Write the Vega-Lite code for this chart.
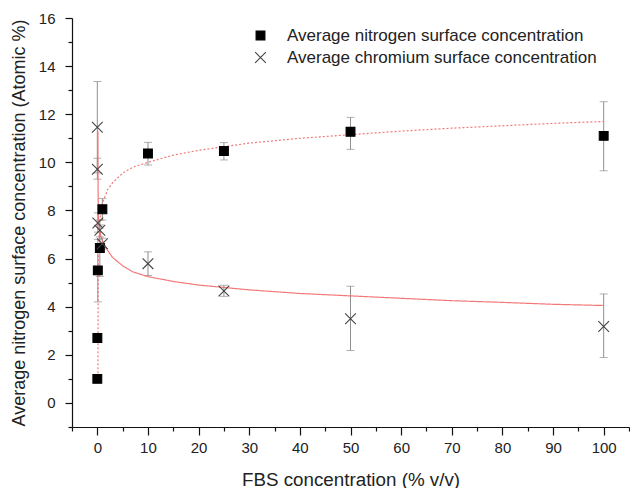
{
  "$schema": "https://vega.github.io/schema/vega-lite/v6.json",
  "width": 557,
  "height": 409,
  "autosize": {"type": "none"},
  "padding": {"left": 72, "top": 18, "right": 1, "bottom": 61},
  "background": "white",
  "config": {
    "view": {"stroke": null},
    "font": "Liberation Sans",
    "axis": {
      "domainColor": "#111",
      "domainWidth": 1.2,
      "tickColor": "#111",
      "tickWidth": 1.2,
      "labelFont": "Liberation Sans",
      "labelFontSize": 15,
      "labelColor": "#222",
      "titleFont": "Liberation Sans",
      "titleFontSize": 18,
      "titleFontWeight": "normal",
      "titleColor": "#222",
      "grid": false
    },
    "legend": {"labelFont": "Liberation Sans", "labelFontSize": 17, "labelColor": "#222", "labelLimit": 0}
  },
  "resolve": {"axis": {"x": "independent", "y": "independent"}},
  "datasets": {
    "pts": [
      {"series": "Average nitrogen surface concentration", "x": 0, "y": 1.0, "lo": 1.0, "hi": 1.0},
      {"series": "Average nitrogen surface concentration", "x": 0.01, "y": 2.7, "lo": 2.7, "hi": 2.7},
      {"series": "Average nitrogen surface concentration", "x": 0.1, "y": 5.51, "lo": 4.2, "hi": 6.8},
      {"series": "Average nitrogen surface concentration", "x": 0.5, "y": 6.44, "lo": 5.26, "hi": 7.6},
      {"series": "Average nitrogen surface concentration", "x": 1, "y": 8.05, "lo": 7.6, "hi": 8.5},
      {"series": "Average nitrogen surface concentration", "x": 10, "y": 10.37, "lo": 9.89, "hi": 10.83},
      {"series": "Average nitrogen surface concentration", "x": 25, "y": 10.47, "lo": 10.1, "hi": 10.82},
      {"series": "Average nitrogen surface concentration", "x": 50, "y": 11.27, "lo": 10.54, "hi": 11.87},
      {"series": "Average nitrogen surface concentration", "x": 100, "y": 11.1, "lo": 9.65, "hi": 12.52},
      {"series": "Average chromium surface concentration", "x": 0, "y": 11.46, "lo": 9.56, "hi": 13.36},
      {"series": "Average chromium surface concentration", "x": 0.01, "y": 9.71, "lo": 9.3, "hi": 10.17},
      {"series": "Average chromium surface concentration", "x": 0.1, "y": 7.48, "lo": 7.1, "hi": 7.9},
      {"series": "Average chromium surface concentration", "x": 0.5, "y": 7.18, "lo": 6.9, "hi": 7.4},
      {"series": "Average chromium surface concentration", "x": 1, "y": 6.62, "lo": 6.4, "hi": 6.85},
      {"series": "Average chromium surface concentration", "x": 10, "y": 5.79, "lo": 5.3, "hi": 6.28},
      {"series": "Average chromium surface concentration", "x": 25, "y": 4.65, "lo": 4.43, "hi": 4.89},
      {"series": "Average chromium surface concentration", "x": 50, "y": 3.5, "lo": 2.18, "hi": 4.85},
      {"series": "Average chromium surface concentration", "x": 100, "y": 3.18, "lo": 1.89, "hi": 4.53}
    ],
    "fit": [
      {"fit": "N", "x": 0.12, "y": 0.9},
      {"fit": "N", "x": 0.15, "y": 4.0},
      {"fit": "N", "x": 0.2, "y": 6.2},
      {"fit": "N", "x": 0.4, "y": 7.4},
      {"fit": "N", "x": 0.7, "y": 7.9},
      {"fit": "N", "x": 1, "y": 8.3},
      {"fit": "N", "x": 2, "y": 8.85},
      {"fit": "N", "x": 3, "y": 9.15},
      {"fit": "N", "x": 5, "y": 9.55},
      {"fit": "N", "x": 7, "y": 9.8},
      {"fit": "N", "x": 10, "y": 10.0},
      {"fit": "N", "x": 15, "y": 10.3},
      {"fit": "N", "x": 20, "y": 10.5},
      {"fit": "N", "x": 30, "y": 10.8},
      {"fit": "N", "x": 40, "y": 11.0},
      {"fit": "N", "x": 50, "y": 11.15},
      {"fit": "N", "x": 60, "y": 11.3},
      {"fit": "N", "x": 70, "y": 11.42},
      {"fit": "N", "x": 80, "y": 11.52},
      {"fit": "N", "x": 90, "y": 11.62},
      {"fit": "N", "x": 100, "y": 11.7},
      {"fit": "Cr", "x": 0.12, "y": 11.3},
      {"fit": "Cr", "x": 0.15, "y": 9.0},
      {"fit": "Cr", "x": 0.2, "y": 7.8},
      {"fit": "Cr", "x": 0.4, "y": 7.2},
      {"fit": "Cr", "x": 0.7, "y": 6.95},
      {"fit": "Cr", "x": 1, "y": 6.75},
      {"fit": "Cr", "x": 1.5, "y": 6.55},
      {"fit": "Cr", "x": 2, "y": 6.35},
      {"fit": "Cr", "x": 3, "y": 6.05},
      {"fit": "Cr", "x": 5, "y": 5.7},
      {"fit": "Cr", "x": 7, "y": 5.45},
      {"fit": "Cr", "x": 10, "y": 5.25},
      {"fit": "Cr", "x": 15, "y": 5.05},
      {"fit": "Cr", "x": 20, "y": 4.9},
      {"fit": "Cr", "x": 30, "y": 4.7},
      {"fit": "Cr", "x": 40, "y": 4.55},
      {"fit": "Cr", "x": 50, "y": 4.45},
      {"fit": "Cr", "x": 60, "y": 4.35},
      {"fit": "Cr", "x": 70, "y": 4.25},
      {"fit": "Cr", "x": 80, "y": 4.18},
      {"fit": "Cr", "x": 90, "y": 4.1},
      {"fit": "Cr", "x": 100, "y": 4.05}
    ]
  },
  "layer": [
    {
      "data": {"name": "pts"},
      "mark": {"type": "rule", "color": "#8f8f8f", "strokeWidth": 1},
      "encoding": {
        "x": {
          "field": "x", "type": "quantitative",
          "scale": {"domain": [-5, 105], "nice": false, "zero": false},
          "axis": {
            "orient": "bottom",
            "values": [0, 10, 20, 30, 40, 50, 60, 70, 80, 90, 100],
            "tickSize": 8,
            "labelPadding": 5,
            "title": "FBS concentration (% v/v)",
            "titleFontSize": 18.8,
            "titlePadding": 15
          }
        },
        "y": {
          "field": "lo", "type": "quantitative",
          "scale": {"domain": [-1, 16], "nice": false, "zero": false},
          "axis": {
            "orient": "left",
            "values": [0, 2, 4, 6, 8, 10, 12, 14, 16],
            "tickSize": 7,
            "labelPadding": 10,
            "title": "Average nitrogen surface concentration (Atomic %)",
            "titlePadding": 10
          }
        },
        "y2": {"field": "hi"}
      }
    },
    {
      "data": {"name": "pts"},
      "mark": {"type": "tick", "orient": "horizontal", "color": "#8f8f8f", "size": 8, "thickness": 1},
      "encoding": {
        "x": {
          "field": "x", "type": "quantitative",
          "axis": {"orient": "bottom", "values": [-5, 5, 15, 25, 35, 45, 55, 65, 75, 85, 95, 105], "tickSize": 4, "labels": false, "domain": false, "title": null}
        },
        "y": {
          "field": "lo", "type": "quantitative",
          "axis": {"orient": "left", "values": [-1, 1, 3, 5, 7, 9, 11, 13, 15], "tickSize": 4, "labels": false, "domain": false, "title": null}
        }
      }
    },
    {
      "data": {"name": "pts"},
      "mark": {"type": "tick", "orient": "horizontal", "color": "#8f8f8f", "size": 8, "thickness": 1},
      "encoding": {
        "x": {"field": "x", "type": "quantitative", "axis": null},
        "y": {"field": "hi", "type": "quantitative", "axis": null}
      }
    },
    {
      "data": {"name": "fit"},
      "mark": {"type": "line", "color": "#f26a6a", "strokeWidth": 1.2, "opacity": 0.9},
      "encoding": {
        "x": {"field": "x", "type": "quantitative", "axis": null},
        "y": {"field": "y", "type": "quantitative", "axis": null},
        "detail": {"field": "fit"},
        "strokeDash": {"field": "fit", "type": "nominal", "scale": {"domain": ["N", "Cr"], "range": [[2, 2], [1, 0]]}, "legend": null}
      }
    },
    {
      "data": {"name": "pts"},
      "mark": {"type": "point", "filled": true, "opacity": 1, "strokeWidth": 1.1},
      "encoding": {
        "x": {"field": "x", "type": "quantitative", "axis": null},
        "y": {"field": "y", "type": "quantitative", "axis": null},
        "shape": {
          "field": "series", "type": "nominal",
          "scale": {"domain": ["Average nitrogen surface concentration", "Average chromium surface concentration"], "range": ["square", "M-1,-1L1,1M-1,1L1,-1"]},
          "legend": {"title": null, "orient": "none", "legendX": 180, "legendY": 9, "padding": 0, "rowPadding": 4, "labelOffset": 18, "symbolStrokeWidth": 1.1}
        },
        "fill": {
          "field": "series", "type": "nominal",
          "scale": {"domain": ["Average nitrogen surface concentration", "Average chromium surface concentration"], "range": ["#000000", "transparent"]},
          "legend": {"title": null, "orient": "none", "legendX": 180, "legendY": 9, "padding": 0, "rowPadding": 4, "labelOffset": 18}
        },
        "stroke": {
          "field": "series", "type": "nominal",
          "scale": {"domain": ["Average nitrogen surface concentration", "Average chromium surface concentration"], "range": ["#000000", "#444444"]},
          "legend": {"title": null, "orient": "none", "legendX": 180, "legendY": 9, "padding": 0, "rowPadding": 4, "labelOffset": 18}
        },
        "size": {
          "field": "series", "type": "nominal",
          "scale": {"domain": ["Average nitrogen surface concentration", "Average chromium surface concentration"], "range": [78, 115]},
          "legend": {"title": null, "orient": "none", "legendX": 180, "legendY": 9, "padding": 0, "rowPadding": 4, "labelOffset": 18}
        }
      }
    }
  ]
}
